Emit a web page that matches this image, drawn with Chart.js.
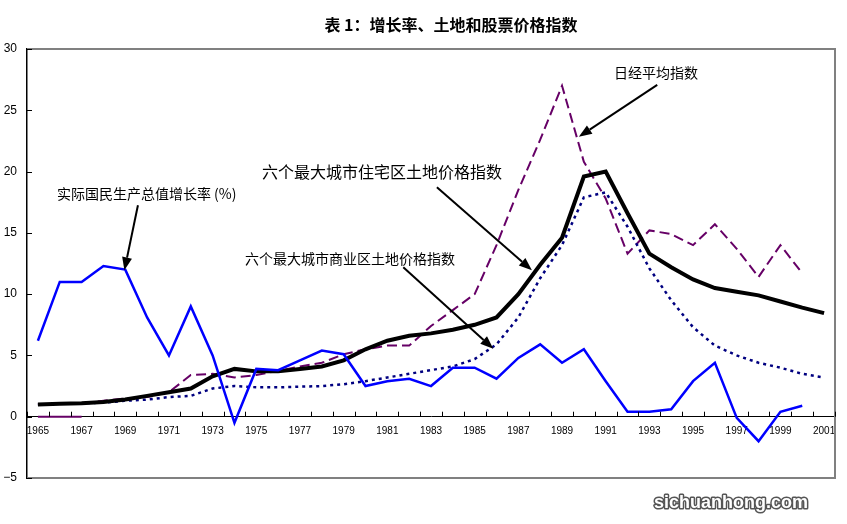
<!DOCTYPE html>
<html>
<head>
<meta charset="utf-8">
<script src="https://cdn.jsdelivr.net/npm/chart.js@4/dist/chart.umd.min.js"></script>
<style>
    body { margin: 0; background: #fff; }
    #wrap { width: 847px; height: 524px; }
</style>
</head>
<body>
<div id="wrap"><canvas id="chart"></canvas></div>
<script>
// --- Data ---
const years = [];
for (let y = 1965; y <= 2001; y++) years.push(String(y));

// real GNP growth rate (%)
const gnpGrowth = [6.2, 11.0, 11.0, 12.3, 12.0, 8.1, 5.0, 9.0, 5.0, -0.5,
    3.9, 3.8, 4.6, 5.4, 5.1, 2.5, 2.9, 3.1, 2.5, 4.0,
    4.0, 3.1, 4.8, 5.9, 4.4, 5.5, 2.9, 0.4, 0.4, 0.6,
    2.9, 4.4, -0.1, -2.0, 0.4, 0.9, null];

// residential land price index, six largest cities
const residentialLand = [1.0, 1.05, 1.1, 1.2, 1.4, 1.7, 2.0, 2.3, 3.3, 3.9,
    3.7, 3.7, 3.9, 4.1, 4.6, 5.5, 6.2, 6.6, 6.8, 7.1,
    7.5, 8.1, 10.0, 12.4, 14.6, 19.6, 20.0, 16.6, 13.3, 12.2,
    11.2, 10.5, 10.2, 9.9, 9.4, 8.9, 8.45];

// commercial land price index, six largest cities
const commercialLand = [1.0, 1.05, 1.1, 1.15, 1.3, 1.4, 1.6, 1.7, 2.3, 2.5,
    2.4, 2.4, 2.45, 2.5, 2.65, 2.9, 3.2, 3.5, 3.8, 4.1,
    4.7, 5.9, 8.1, 11.3, 14.0, 17.9, 18.3, 15.5, 12.1, 9.5,
    7.3, 5.8, 5.0, 4.4, 4.0, 3.5, 3.2];

// Nikkei average index
const nikkei = [1.0, 1.1, 1.1, 1.3, 1.5, 1.6, 2.0, 3.4, 3.5, 3.2,
    3.4, 3.75, 4.1, 4.4, 5.1, 5.5, 5.8, 5.8, 7.4, 8.7,
    10.0, 14.0, 18.5, 22.6, 27.0, 20.8, 17.8, 13.3, 15.2, 14.9,
    14.0, 15.7, 13.7, 11.4, 14.0, 11.7, null];

// short flat segment at zero under the first years
const nikkeiBase = [0, 0, 0];

const yTicks = { min: -5, max: 30, step: 5 };

// labels drawn on the plot, anchored in data units (x = year index, y = value)
const notes = [
    { text: '日经平均指数', size: 14, x: 26.38, y: 28.05, from: [28.36, 27.07], to: [24.77, 22.84] },
    { text: '六个最大城市住宅区土地价格指数', size: 16, x: 10.26, y: 19.95, from: [18.27, 18.73], to: [22.62, 11.94] },
    { text: '六个最大城市商业区土地价格指数', size: 14, x: 9.48, y: 12.92, from: [16.73, 12.2], to: [20.85, 5.54] },
    { text: '实际国民生产总值增长率 (%)', size: 14, x: 0.87, y: 18.23, from: [4.58, 17.25], to: [3.96, 11.94] }
];

const titleText = '表 1：增长率、土地和股票价格指数';
const cjkFont = '"Noto Sans CJK SC", "Noto Sans", sans-serif';

// --- Drawing helpers ---
function drawArrow(ctx, x1, y1, x2, y2) {
    const ang = Math.atan2(y2 - y1, x2 - x1);
    const head = 13, half = 5;
    const bx = x2 - head * Math.cos(ang), by = y2 - head * Math.sin(ang);
    ctx.save();
    ctx.strokeStyle = '#000';
    ctx.fillStyle = '#000';
    ctx.lineWidth = 2;
    ctx.beginPath();
    ctx.moveTo(x1, y1);
    ctx.lineTo(bx, by);
    ctx.stroke();
    ctx.beginPath();
    ctx.moveTo(x2, y2);
    ctx.lineTo(bx + half * Math.sin(ang), by - half * Math.cos(ang));
    ctx.lineTo(bx - half * Math.sin(ang), by + half * Math.cos(ang));
    ctx.closePath();
    ctx.fill();
    ctx.restore();
}

const decorPlugin = {
    id: 'decor',
    beforeDraw(chart) {
        const { ctx } = chart;
        ctx.save();
        ctx.fillStyle = '#fff';
        ctx.fillRect(0, 0, chart.width, chart.height);
        ctx.restore();
    },
    afterDatasetsDraw(chart) {
        const { ctx, chartArea: a } = chart;
        const xs = chart.scales.x, ys = chart.scales.y;

        ctx.save();
        // plot frame: grey top, right, bottom
        ctx.strokeStyle = '#808080';
        ctx.lineWidth = 2;
        ctx.beginPath();
        ctx.moveTo(a.left, a.top);
        ctx.lineTo(a.right, a.top);
        ctx.lineTo(a.right, a.bottom);
        ctx.lineTo(a.left, a.bottom);
        ctx.stroke();

        // inside tick marks
        ctx.strokeStyle = '#000';
        ctx.lineWidth = 1;
        ctx.beginPath();
        for (let v = yTicks.min; v <= yTicks.max; v += yTicks.step) {
            const py = Math.round(ys.getPixelForValue(v)) + 0.5;
            ctx.moveTo(a.left, py);
            ctx.lineTo(a.left + 5, py);
        }
        const y0 = ys.getPixelForValue(0);
        for (let i = 0; i <= years.length; i++) {
            const px = Math.round(xs.getPixelForValue(i - 0.5)) + 0.5;
            ctx.moveTo(px, y0);
            ctx.lineTo(px, y0 - 5);
        }
        ctx.stroke();

        // title
        ctx.fillStyle = '#000';
        ctx.font = 'bold 16px ' + cjkFont;
        ctx.textAlign = 'center';
        ctx.textBaseline = 'middle';
        ctx.fillText(titleText, 451, 25);

        // annotations
        ctx.textAlign = 'left';
        notes.forEach(n => {
            ctx.font = n.size + 'px ' + cjkFont;
            ctx.fillText(n.text, xs.getPixelForValue(n.x), ys.getPixelForValue(n.y));
            drawArrow(ctx,
                xs.getPixelForValue(n.from[0]), ys.getPixelForValue(n.from[1]),
                xs.getPixelForValue(n.to[0]), ys.getPixelForValue(n.to[1]));
        });

        // watermark
        ctx.font = 'bold 18px "Liberation Sans", Arial, sans-serif';
        ctx.textAlign = 'center';
        ctx.lineJoin = 'round';
        ctx.lineWidth = 3;
        ctx.strokeStyle = '#555';
        ctx.strokeText('sichuanhong.com', 731, 503);
        ctx.fillStyle = '#fff';
        ctx.fillText('sichuanhong.com', 731, 503);
        ctx.restore();
    }
};

// --- Chart ---
const lineBase = { pointRadius: 0, tension: 0, fill: false, spanGaps: false };

new Chart(document.getElementById('chart'), {
    type: 'line',
    data: {
        labels: years,
        datasets: [
            { ...lineBase, label: '实际国民生产总值增长率 (%)', data: gnpGrowth, borderColor: '#0000ff', borderWidth: 2.5 },
            { ...lineBase, label: '六个最大城市住宅区土地价格指数', data: residentialLand, borderColor: '#000000', borderWidth: 4 },
            { ...lineBase, label: '六个最大城市商业区土地价格指数', data: commercialLand, borderColor: '#000080', borderWidth: 2.5, borderDash: [3, 4] },
            { ...lineBase, label: '日经平均指数', data: nikkei, borderColor: '#660066', borderWidth: 2, borderDash: [10, 5] },
            { ...lineBase, label: 'base', data: nikkeiBase, borderColor: '#660066', borderWidth: 2 }
        ]
    },
    options: {
        responsive: true,
        maintainAspectRatio: false,
        animation: false,
        layout: { padding: { top: 49, left: 0, right: 12, bottom: 46 } },
        plugins: {
            legend: { display: false },
            title: { display: false },
            tooltip: { enabled: false }
        },
        scales: {
            x: {
                type: 'category',
                position: { y: 0 },
                offset: true,
                grid: { display: false, drawTicks: false },
                border: { display: true, color: '#000', width: 1 },
                ticks: {
                    autoSkip: false,
                    maxRotation: 0,
                    padding: 9,
                    color: '#000',
                    font: { family: '"Liberation Sans", Arial, sans-serif', size: 10 },
                    callback: (v, i) => (i % 2 === 0 ? years[i] : '')
                }
            },
            y: {
                min: yTicks.min,
                max: yTicks.max,
                grid: { display: false, drawTicks: false },
                border: { display: true, color: '#000', width: 1.5 },
                afterFit: s => { s.width = 27; },
                ticks: {
                    stepSize: yTicks.step,
                    padding: 10,
                    color: '#000',
                    font: { family: '"Liberation Sans", Arial, sans-serif', size: 12 },
                    callback: v => String(v).replace('-', '\u2212')
                }
            }
        }
    },
    plugins: [decorPlugin]
});
</script>
</body>
</html>
